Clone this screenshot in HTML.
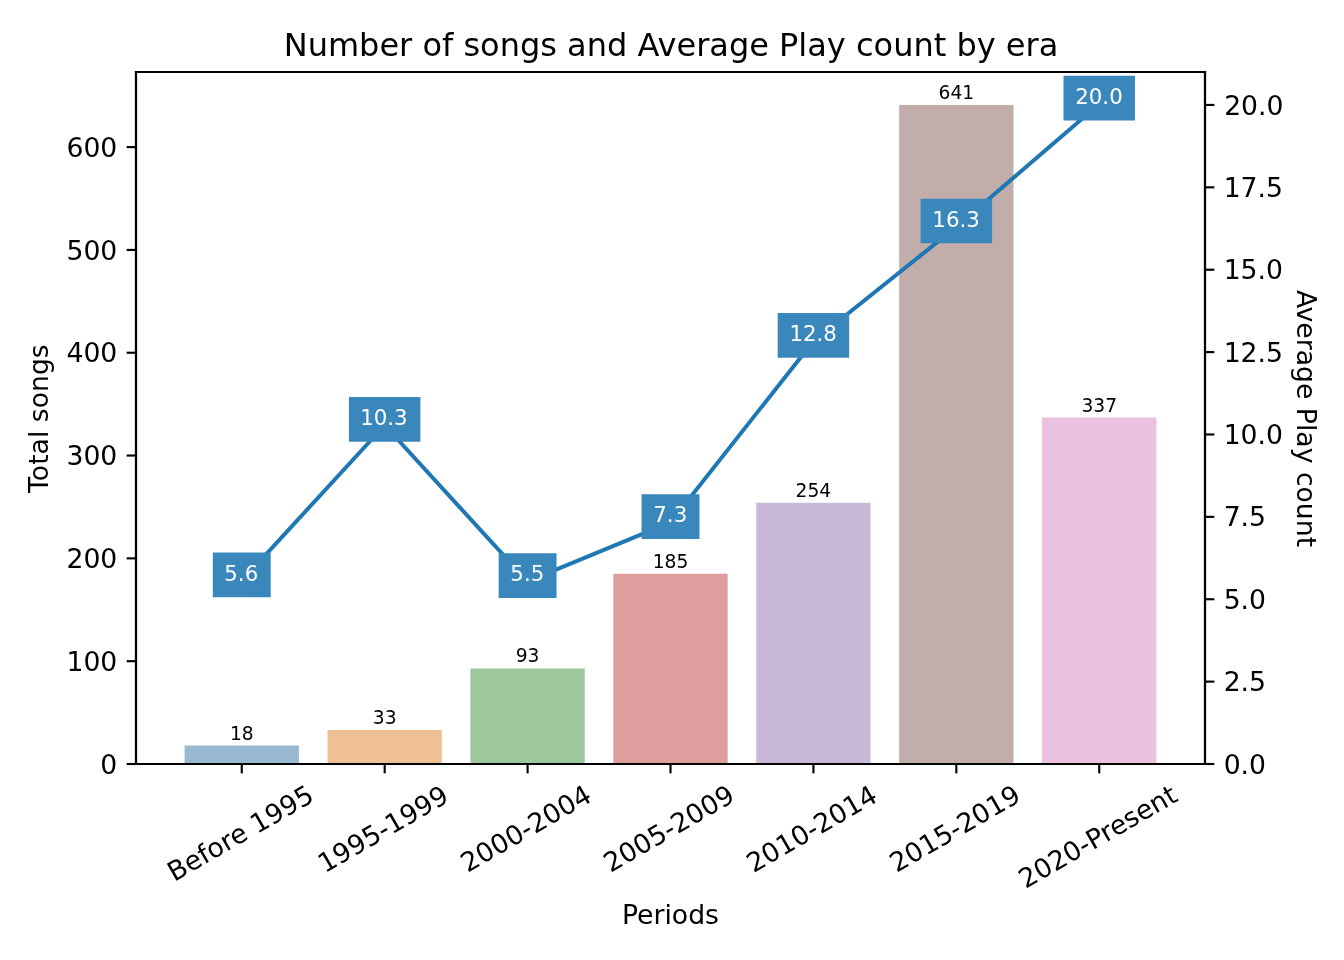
<!DOCTYPE html>
<html lang="en"><head><meta charset="utf-8"><title>Number of songs and Average Play count by era</title><style>html,body{margin:0;padding:0;background:#fff;overflow:hidden;width:1344px;height:960px}svg{display:block;will-change:transform}</style></head><body>
<svg width="1344" height="960" viewBox="0 0 504 360">
<defs>
<style type="text/css">*{stroke-linejoin: round; stroke-linecap: butt}</style>
</defs>
<g id="figure_1">
<g id="patch_1">
<path d="M 0 360 L 504 360 L 504 0 L 0 0 z
" style="fill: #ffffff"/>
</g>
<g id="axes_1">
<g id="patch_2">
<path d="M 51 286.5 L 451.875 286.5 L 451.875 27 L 51 27 z
" style="fill: #ffffff"/>
</g>
<g id="patch_3">
<path d="M 69.221591 286.5 L 112.095922 286.5 L 112.095922 279.559951 L 69.221591 279.559951 z
" clip-path="url(#p33f15f29d8)" style="fill: #3274a1; opacity: 0.5"/>
</g>
<g id="patch_4">
<path d="M 122.814505 286.5 L 165.688837 286.5 L 165.688837 273.776577 L 122.814505 273.776577 z
" clip-path="url(#p33f15f29d8)" style="fill: #e1812c; opacity: 0.5"/>
</g>
<g id="patch_5">
<path d="M 176.40742 286.5 L 219.281751 286.5 L 219.281751 250.64308 L 176.40742 250.64308 z
" clip-path="url(#p33f15f29d8)" style="fill: #3a923a; opacity: 0.5"/>
</g>
<g id="patch_6">
<path d="M 230.000334 286.5 L 272.874666 286.5 L 272.874666 215.171718 L 230.000334 215.171718 z
" clip-path="url(#p33f15f29d8)" style="fill: #c03d3e; opacity: 0.5"/>
</g>
<g id="patch_7">
<path d="M 283.593249 286.5 L 326.46758 286.5 L 326.46758 188.568197 L 283.593249 188.568197 z
" clip-path="url(#p33f15f29d8)" style="fill: #9372b2; opacity: 0.5"/>
</g>
<g id="patch_8">
<path d="M 337.186163 286.5 L 380.060495 286.5 L 380.060495 39.357143 L 337.186163 39.357143 z
" clip-path="url(#p33f15f29d8)" style="fill: #845b53; opacity: 0.5"/>
</g>
<g id="patch_9">
<path d="M 390.779078 286.5 L 433.653409 286.5 L 433.653409 156.56686 L 390.779078 156.56686 z
" clip-path="url(#p33f15f29d8)" style="fill: #d684bd; opacity: 0.5"/>
</g>
<g id="matplotlib.axis_1">
<g id="xtick_1">
<g id="line2d_1">
<g>
<path d="M 90.6588 286.5 L 90.6588 290" style="stroke: #000000; stroke-width: 0.8"/>
</g>
</g>
<g id="text_1">
<text style="font-size: 10px; font-family: 'DejaVu Sans', 'Liberation Sans', sans-serif" transform="translate(-0.1875 0.0000) translate(65.48597 330.740596) rotate(-30)">Before 1995</text>
</g>
</g>
<g id="xtick_2">
<g id="line2d_2">
<g>
<path d="M 144.252 286.5 L 144.252 290" style="stroke: #000000; stroke-width: 0.8"/>
</g>
</g>
<g id="text_2">
<text style="font-size: 10px; font-family: 'DejaVu Sans', 'Liberation Sans', sans-serif" transform="translate(-0.2812 0.1875) translate(122.028783 327.334346) rotate(-30)">1995-1999</text>
</g>
</g>
<g id="xtick_3">
<g id="line2d_3">
<g>
<path d="M 197.845 286.5 L 197.845 290" style="stroke: #000000; stroke-width: 0.8"/>
</g>
</g>
<g id="text_3">
<text style="font-size: 10px; font-family: 'DejaVu Sans', 'Liberation Sans', sans-serif" transform="translate(-0.2812 0.0000) translate(175.621698 327.334346) rotate(-30)">2000-2004</text>
</g>
</g>
<g id="xtick_4">
<g id="line2d_4">
<g>
<path d="M 251.438 286.5 L 251.438 290" style="stroke: #000000; stroke-width: 0.8"/>
</g>
</g>
<g id="text_4">
<text style="font-size: 10px; font-family: 'DejaVu Sans', 'Liberation Sans', sans-serif" transform="translate(-0.2812 0.0000) translate(229.214612 327.334346) rotate(-30)">2005-2009</text>
</g>
</g>
<g id="xtick_5">
<g id="line2d_5">
<g>
<path d="M 305.03 286.5 L 305.03 290" style="stroke: #000000; stroke-width: 0.8"/>
</g>
</g>
<g id="text_5">
<text style="font-size: 10px; font-family: 'DejaVu Sans', 'Liberation Sans', sans-serif" transform="translate(-0.2812 0.0938) translate(282.807527 327.334346) rotate(-30)">2010-2014</text>
</g>
</g>
<g id="xtick_6">
<g id="line2d_6">
<g>
<path d="M 358.623 286.5 L 358.623 290" style="stroke: #000000; stroke-width: 0.8"/>
</g>
</g>
<g id="text_6">
<text style="font-size: 10px; font-family: 'DejaVu Sans', 'Liberation Sans', sans-serif" transform="translate(-0.1875 0.0000) translate(336.400441 327.334346) rotate(-30)">2015-2019</text>
</g>
</g>
<g id="xtick_7">
<g id="line2d_7">
<g>
<path d="M 412.216 286.5 L 412.216 290" style="stroke: #000000; stroke-width: 0.8"/>
</g>
</g>
<g id="text_7">
<text style="font-size: 10px; font-family: 'DejaVu Sans', 'Liberation Sans', sans-serif" transform="translate(-0.1875 0.0000) translate(384.769463 333.366377) rotate(-30)">2020-Present</text>
</g>
</g>
<g id="text_8">
<text style="font-size: 10px; font-family: 'DejaVu Sans', 'Liberation Sans', sans-serif; text-anchor: middle" x="251.4375" y="346.765877" transform="translate(0.0000 -0.2659) rotate(-0 251.4375 346.765877)">Periods</text>
</g>
</g>
<g id="matplotlib.axis_2">
<g id="ytick_1">
<g id="line2d_8">
<g>
<path d="M 51 286.5 L 47.5 286.5" style="stroke: #000000; stroke-width: 0.8"/>
</g>
</g>
<g id="text_9">
<text style="font-size: 10px; font-family: 'DejaVu Sans', 'Liberation Sans', sans-serif; text-anchor: end" x="44" y="290.299219" transform="rotate(-0 44 290.299219)">0</text>
</g>
</g>
<g id="ytick_2">
<g id="line2d_9">
<g>
<path d="M 51 247.944 L 47.5 247.944" style="stroke: #000000; stroke-width: 0.8"/>
</g>
</g>
<g id="text_10">
<text style="font-size: 10px; font-family: 'DejaVu Sans', 'Liberation Sans', sans-serif; text-anchor: end" x="44" y="251.743391" transform="translate(0.0000 -0.1184) rotate(-0 44 251.743391)">100</text>
</g>
</g>
<g id="ytick_3">
<g id="line2d_10">
<g>
<path d="M 51 209.388 L 47.5 209.388" style="stroke: #000000; stroke-width: 0.8"/>
</g>
</g>
<g id="text_11">
<text style="font-size: 10px; font-family: 'DejaVu Sans', 'Liberation Sans', sans-serif; text-anchor: end" x="44" y="213.187563" transform="translate(0.0000 -0.1876) rotate(-0 44 213.187563)">200</text>
</g>
</g>
<g id="ytick_4">
<g id="line2d_11">
<g>
<path d="M 51 170.833 L 47.5 170.833" style="stroke: #000000; stroke-width: 0.8"/>
</g>
</g>
<g id="text_12">
<text style="font-size: 10px; font-family: 'DejaVu Sans', 'Liberation Sans', sans-serif; text-anchor: end" x="44" y="174.631735" transform="translate(0.0000 -0.2567) rotate(-0 44 174.631735)">300</text>
</g>
</g>
<g id="ytick_5">
<g id="line2d_12">
<g>
<path d="M 51 132.277 L 47.5 132.277" style="stroke: #000000; stroke-width: 0.8"/>
</g>
</g>
<g id="text_13">
<text style="font-size: 10px; font-family: 'DejaVu Sans', 'Liberation Sans', sans-serif; text-anchor: end" x="44" y="136.075907" transform="translate(0.0000 -0.3259) rotate(-0 44 136.075907)">400</text>
</g>
</g>
<g id="ytick_6">
<g id="line2d_13">
<g>
<path d="M 51 93.7209 L 47.5 93.7209" style="stroke: #000000; stroke-width: 0.8"/>
</g>
</g>
<g id="text_14">
<text style="font-size: 10px; font-family: 'DejaVu Sans', 'Liberation Sans', sans-serif; text-anchor: end" x="44" y="97.520079" transform="rotate(-0 44 97.520079)">500</text>
</g>
</g>
<g id="ytick_7">
<g id="line2d_14">
<g>
<path d="M 51 55.165 L 47.5 55.165" style="stroke: #000000; stroke-width: 0.8"/>
</g>
</g>
<g id="text_15">
<text style="font-size: 10px; font-family: 'DejaVu Sans', 'Liberation Sans', sans-serif; text-anchor: end" x="44" y="58.964251" transform="translate(0.0000 -0.0893) rotate(-0 44 58.964251)">600</text>
</g>
</g>
<g id="text_16">
<text style="font-size: 10px; font-family: 'DejaVu Sans', 'Liberation Sans', sans-serif; text-anchor: middle" x="18.832812" y="156.75" transform="translate(-0.7500 0.2250) rotate(-90 18.832812 156.75)">Total songs</text>
</g>
</g>
<g id="line2d_15">
<path clip-path="url(#p33f15f29d8)" style="fill: none; stroke: #424242; stroke-width: 2.25; stroke-linecap: square"/>
</g>
<g id="line2d_16">
<path clip-path="url(#p33f15f29d8)" style="fill: none; stroke: #424242; stroke-width: 2.25; stroke-linecap: square"/>
</g>
<g id="line2d_17">
<path clip-path="url(#p33f15f29d8)" style="fill: none; stroke: #424242; stroke-width: 2.25; stroke-linecap: square"/>
</g>
<g id="line2d_18">
<path clip-path="url(#p33f15f29d8)" style="fill: none; stroke: #424242; stroke-width: 2.25; stroke-linecap: square"/>
</g>
<g id="line2d_19">
<path clip-path="url(#p33f15f29d8)" style="fill: none; stroke: #424242; stroke-width: 2.25; stroke-linecap: square"/>
</g>
<g id="line2d_20">
<path clip-path="url(#p33f15f29d8)" style="fill: none; stroke: #424242; stroke-width: 2.25; stroke-linecap: square"/>
</g>
<g id="line2d_21">
<path clip-path="url(#p33f15f29d8)" style="fill: none; stroke: #424242; stroke-width: 2.25; stroke-linecap: square"/>
</g>
<g id="patch_10">
<path d="M 51 286.5 L 51 27 " style="fill: none; stroke: #000000; stroke-width: 0.8; stroke-linejoin: miter; stroke-linecap: square"/>
</g>
<g id="patch_11">
<path d="M 451.875 286.5 L 451.875 27 " style="fill: none; stroke: #000000; stroke-width: 0.8; stroke-linejoin: miter; stroke-linecap: square"/>
</g>
<g id="patch_12">
<path d="M 51 286.5 L 451.875 286.5 " style="fill: none; stroke: #000000; stroke-width: 0.8; stroke-linejoin: miter; stroke-linecap: square"/>
</g>
<g id="patch_13">
<path d="M 51 27 L 451.875 27 " style="fill: none; stroke: #000000; stroke-width: 0.8; stroke-linejoin: miter; stroke-linecap: square"/>
</g>
<g id="text_17">
<text style="font-size: 7px; font-family: 'DejaVu Sans', 'Liberation Sans', sans-serif; text-anchor: middle" x="90.658757" y="277.333053" transform="rotate(-0 90.658757 277.333053)">18</text>
</g>
<g id="text_18">
<text style="font-size: 7px; font-family: 'DejaVu Sans', 'Liberation Sans', sans-serif; text-anchor: middle" x="144.251671" y="271.549679" transform="rotate(-0 144.251671 271.549679)">33</text>
</g>
<g id="text_19">
<text style="font-size: 7px; font-family: 'DejaVu Sans', 'Liberation Sans', sans-serif; text-anchor: middle" x="197.844586" y="248.416182" transform="rotate(-0 197.844586 248.416182)">93</text>
</g>
<g id="text_20">
<text style="font-size: 7px; font-family: 'DejaVu Sans', 'Liberation Sans', sans-serif; text-anchor: middle" x="251.4375" y="212.94482" transform="rotate(-0 251.4375 212.94482)">185</text>
</g>
<g id="text_21">
<text style="font-size: 7px; font-family: 'DejaVu Sans', 'Liberation Sans', sans-serif; text-anchor: middle" x="305.030414" y="186.341299" transform="rotate(-0 305.030414 186.341299)">254</text>
</g>
<g id="text_22">
<text style="font-size: 7px; font-family: 'DejaVu Sans', 'Liberation Sans', sans-serif; text-anchor: middle" x="358.623329" y="37.130245" transform="rotate(-0 358.623329 37.130245)">641</text>
</g>
<g id="text_23">
<text style="font-size: 7px; font-family: 'DejaVu Sans', 'Liberation Sans', sans-serif; text-anchor: middle" x="412.216243" y="154.339962" transform="rotate(-0 412.216243 154.339962)">337</text>
</g>
<g id="text_24">
<text style="font-size: 12px; font-family: 'DejaVu Sans', 'Liberation Sans', sans-serif; text-anchor: middle" x="251.4375" y="21" transform="translate(0.1875 0.0000) rotate(-0 251.4375 21)">Number of songs and Average Play count by era</text>
</g>
</g>
<g id="axes_2">
<g id="matplotlib.axis_3">
<g id="ytick_8">
<g id="line2d_22">
<g>
<path d="M 451.875 286.5 L 455.375 286.5" style="stroke: #000000; stroke-width: 0.8"/>
</g>
</g>
<g id="text_25">
<text style="font-size: 10px; font-family: 'DejaVu Sans', 'Liberation Sans', sans-serif; text-anchor: start" x="458.875" y="290.299219" transform="rotate(-0 458.875 290.299219)">0.0</text>
</g>
</g>
<g id="ytick_9">
<g id="line2d_23">
<g>
<path d="M 451.875 255.607 L 455.375 255.607" style="stroke: #000000; stroke-width: 0.8"/>
</g>
</g>
<g id="text_26">
<text style="font-size: 10px; font-family: 'DejaVu Sans', 'Liberation Sans', sans-serif; text-anchor: start" x="458.875" y="259.406362" transform="translate(0.0000 -0.2814) rotate(-0 458.875 259.406362)">2.5</text>
</g>
</g>
<g id="ytick_10">
<g id="line2d_24">
<g>
<path d="M 451.875 224.714 L 455.375 224.714" style="stroke: #000000; stroke-width: 0.8"/>
</g>
</g>
<g id="text_27">
<text style="font-size: 10px; font-family: 'DejaVu Sans', 'Liberation Sans', sans-serif; text-anchor: start" x="458.875" y="228.513504" transform="translate(0.0000 -0.1385) rotate(-0 458.875 228.513504)">5.0</text>
</g>
</g>
<g id="ytick_11">
<g id="line2d_25">
<g>
<path d="M 451.875 193.821 L 455.375 193.821" style="stroke: #000000; stroke-width: 0.8"/>
</g>
</g>
<g id="text_28">
<text style="font-size: 10px; font-family: 'DejaVu Sans', 'Liberation Sans', sans-serif; text-anchor: start" x="458.875" y="197.620647" transform="translate(0.0000 -0.3706) rotate(-0 458.875 197.620647)">7.5</text>
</g>
</g>
<g id="ytick_12">
<g id="line2d_26">
<g>
<path d="M 451.875 162.929 L 455.375 162.929" style="stroke: #000000; stroke-width: 0.8"/>
</g>
</g>
<g id="text_29">
<text style="font-size: 10px; font-family: 'DejaVu Sans', 'Liberation Sans', sans-serif; text-anchor: start" x="458.875" y="166.72779" transform="translate(0.0000 -0.2278) rotate(-0 458.875 166.72779)">10.0</text>
</g>
</g>
<g id="ytick_13">
<g id="line2d_27">
<g>
<path d="M 451.875 132.036 L 455.375 132.036" style="stroke: #000000; stroke-width: 0.8"/>
</g>
</g>
<g id="text_30">
<text style="font-size: 10px; font-family: 'DejaVu Sans', 'Liberation Sans', sans-serif; text-anchor: start" x="458.875" y="135.834933" transform="translate(0.0000 -0.0849) rotate(-0 458.875 135.834933)">12.5</text>
</g>
</g>
<g id="ytick_14">
<g id="line2d_28">
<g>
<path d="M 451.875 101.143 L 455.375 101.143" style="stroke: #000000; stroke-width: 0.8"/>
</g>
</g>
<g id="text_31">
<text style="font-size: 10px; font-family: 'DejaVu Sans', 'Liberation Sans', sans-serif; text-anchor: start" x="458.875" y="104.942076" transform="translate(0.0000 -0.3171) rotate(-0 458.875 104.942076)">15.0</text>
</g>
</g>
<g id="ytick_15">
<g id="line2d_29">
<g>
<path d="M 451.875 70.25 L 455.375 70.25" style="stroke: #000000; stroke-width: 0.8"/>
</g>
</g>
<g id="text_32">
<text style="font-size: 10px; font-family: 'DejaVu Sans', 'Liberation Sans', sans-serif; text-anchor: start" x="458.875" y="74.049219" transform="translate(0.0000 -0.1742) rotate(-0 458.875 74.049219)">17.5</text>
</g>
</g>
<g id="ytick_16">
<g id="line2d_30">
<g>
<path d="M 451.875 39.3571 L 455.375 39.3571" style="stroke: #000000; stroke-width: 0.8"/>
</g>
</g>
<g id="text_33">
<text style="font-size: 10px; font-family: 'DejaVu Sans', 'Liberation Sans', sans-serif; text-anchor: start" x="458.875" y="43.156362" transform="translate(0.1875 0.0000) rotate(-0 458.875 43.156362)">20.0</text>
</g>
</g>
<g id="text_34">
<text style="font-size: 10px; font-family: 'DejaVu Sans', 'Liberation Sans', sans-serif; text-anchor: middle" x="487.220313" y="156.75" transform="translate(-0.7687 0.1875) rotate(-270 487.220313 156.75)">Average Play count</text>
</g>
</g>
<g id="line2d_31">
<path d="M 90.658757 217.794286 L 144.251671 159.468571 L 197.844586 218.041429 L 251.4375 195.922143 L 305.030414 127.957857 L 358.623329 85.078571 L 412.216243 38.986429 " clip-path="url(#p33f15f29d8)" style="fill: none; stroke: #1f77b4; stroke-width: 1.5; stroke-linecap: square"/>
</g>
<g id="patch_14">
<path d="M 51 286.5 L 51 27 " style="fill: none; stroke: #000000; stroke-width: 0.8; stroke-linejoin: miter; stroke-linecap: square"/>
</g>
<g id="patch_15">
<path d="M 451.875 286.5 L 451.875 27 " style="fill: none; stroke: #000000; stroke-width: 0.8; stroke-linejoin: miter; stroke-linecap: square"/>
</g>
<g id="patch_16">
<path d="M 51 286.5 L 451.875 286.5 " style="fill: none; stroke: #000000; stroke-width: 0.8; stroke-linejoin: miter; stroke-linecap: square"/>
</g>
<g id="patch_17">
<path d="M 51 27 L 451.875 27 " style="fill: none; stroke: #000000; stroke-width: 0.8; stroke-linejoin: miter; stroke-linecap: square"/>
</g>
<g id="text_35">
<g id="patch_18">
<path d="M 80.297507 223.458036 L 101.020007 223.458036 L 101.020007 207.715536 L 80.297507 207.715536 z
" style="fill: #3a87bc; stroke: #3a87bc; stroke-linejoin: miter"/>
</g>
<text style="font-size: 8px; font-family: 'DejaVu Sans', 'Liberation Sans', sans-serif; text-anchor: middle; fill: #ffffff" x="90.658757" y="217.794286" transform="translate(-0.1875 0.0000) rotate(-0 90.658757 217.794286)">5.6</text>
</g>
<g id="text_36">
<g id="patch_19">
<path d="M 131.345421 165.132321 L 157.157921 165.132321 L 157.157921 149.389821 L 131.345421 149.389821 z
" style="fill: #3a87bc; stroke: #3a87bc; stroke-linejoin: miter"/>
</g>
<text style="font-size: 8px; font-family: 'DejaVu Sans', 'Liberation Sans', sans-serif; text-anchor: middle; fill: #ffffff" x="144.251671" y="159.468571" transform="translate(-0.2812 0.0000) rotate(-0 144.251671 159.468571)">10.3</text>
</g>
<g id="text_37">
<g id="patch_20">
<path d="M 187.483336 223.705179 L 208.205836 223.705179 L 208.205836 207.962679 L 187.483336 207.962679 z
" style="fill: #3a87bc; stroke: #3a87bc; stroke-linejoin: miter"/>
</g>
<text style="font-size: 8px; font-family: 'DejaVu Sans', 'Liberation Sans', sans-serif; text-anchor: middle; fill: #ffffff" x="197.844586" y="218.041429" transform="translate(-0.0938 0.0000) rotate(-0 197.844586 218.041429)">5.5</text>
</g>
<g id="text_38">
<g id="patch_21">
<path d="M 241.07625 201.585893 L 261.79875 201.585893 L 261.79875 185.843393 L 241.07625 185.843393 z
" style="fill: #3a87bc; stroke: #3a87bc; stroke-linejoin: miter"/>
</g>
<text style="font-size: 8px; font-family: 'DejaVu Sans', 'Liberation Sans', sans-serif; text-anchor: middle; fill: #ffffff" x="251.4375" y="195.922143" transform="translate(-0.0938 0.0000) rotate(-0 251.4375 195.922143)">7.3</text>
</g>
<g id="text_39">
<g id="patch_22">
<path d="M 292.124164 133.621607 L 317.936664 133.621607 L 317.936664 117.879107 L 292.124164 117.879107 z
" style="fill: #3a87bc; stroke: #3a87bc; stroke-linejoin: miter"/>
</g>
<text style="font-size: 8px; font-family: 'DejaVu Sans', 'Liberation Sans', sans-serif; text-anchor: middle; fill: #ffffff" x="305.030414" y="127.957857" transform="translate(-0.0938 0.0000) rotate(-0 305.030414 127.957857)">12.8</text>
</g>
<g id="text_40">
<g id="patch_23">
<path d="M 345.717079 90.742321 L 371.529579 90.742321 L 371.529579 74.999821 L 345.717079 74.999821 z
" style="fill: #3a87bc; stroke: #3a87bc; stroke-linejoin: miter"/>
</g>
<text style="font-size: 8px; font-family: 'DejaVu Sans', 'Liberation Sans', sans-serif; text-anchor: middle; fill: #ffffff" x="358.623329" y="85.078571" transform="translate(-0.0938 0.0000) rotate(-0 358.623329 85.078571)">16.3</text>
</g>
<g id="text_41">
<g id="patch_24">
<path d="M 399.309993 44.650179 L 425.122493 44.650179 L 425.122493 28.907679 L 399.309993 28.907679 z
" style="fill: #3a87bc; stroke: #3a87bc; stroke-linejoin: miter"/>
</g>
<text style="font-size: 8px; font-family: 'DejaVu Sans', 'Liberation Sans', sans-serif; text-anchor: middle; fill: #ffffff" x="412.216243" y="38.986429" transform="translate(-0.0938 0.0000) rotate(-0 412.216243 38.986429)">20.0</text>
</g>
</g>
</g>
<defs>
<clipPath id="p33f15f29d8">
<rect x="51" y="27" width="400.875" height="259.5"/>
</clipPath>
</defs>
</svg>
</body></html>
